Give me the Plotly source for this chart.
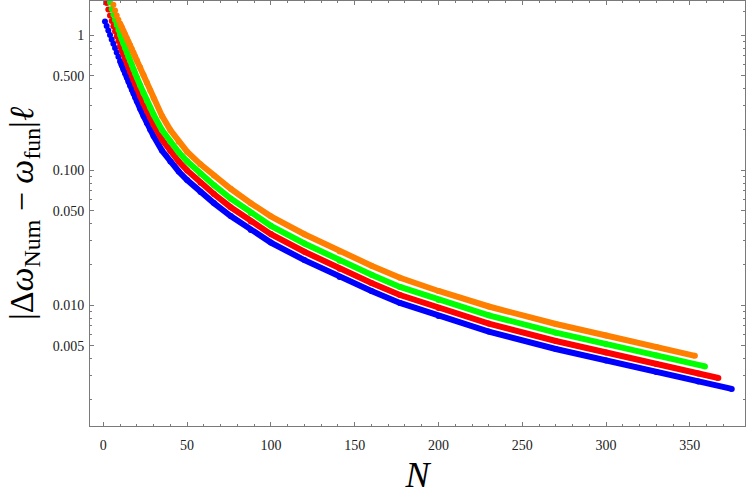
import plotly.graph_objects as go

# ---- data ----
N_blue = [1, 2, 3, 4, 5, 6, 7, 8, 9, 10, 11, 12, 13, 14, 15, 16, 17, 18, 19, 20,
          22, 24, 26, 28, 30, 35, 40, 45, 50, 58, 66, 76, 88, 100, 120, 141, 160,
          177, 200, 230, 270, 300, 330, 355, 375]
V_blue = [1.259, 1.166, 1.080, 1.000, 0.928, 0.861, 0.800, 0.743, 0.691, 0.642,
          0.597, 0.556, 0.519, 0.484, 0.451, 0.421, 0.393, 0.368, 0.344, 0.323,
          0.284, 0.251, 0.223, 0.199, 0.1786, 0.1394, 0.1156, 0.0975, 0.0843,
          0.0687, 0.0569, 0.0456, 0.0359, 0.0290, 0.0215, 0.0161, 0.0127,
          0.01035, 0.00829, 0.00636, 0.00472, 0.00388, 0.00319, 0.00271, 0.00239]

N_red = [2, 3, 4, 5, 6, 7, 8, 9, 10, 11, 12, 13, 14, 15, 16, 17, 18, 19, 20,
         22, 24, 26, 28, 30, 35, 40, 45, 50, 58, 66, 76, 88, 100, 120, 141, 160,
         177, 200, 230, 270, 300, 330, 355, 367]
V_red = [1.726, 1.545, 1.394, 1.272, 1.160, 1.065, 0.980, 0.903, 0.833, 0.772,
         0.715, 0.663, 0.616, 0.573, 0.533, 0.496, 0.462, 0.431, 0.403,
         0.353, 0.310, 0.274, 0.2435, 0.2173, 0.1682, 0.1382, 0.1156, 0.0993,
         0.0804, 0.0664, 0.0530, 0.0416, 0.0335, 0.0248, 0.01853, 0.01458,
         0.01186, 0.00950, 0.00729, 0.00541, 0.00445, 0.00366, 0.00311, 0.00288]

N_green = [4, 5, 6, 7, 8, 9, 10, 11, 12, 13, 14, 15, 16, 17, 18, 19, 20,
           22, 24, 26, 28, 30, 35, 40, 45, 50, 58, 66, 76, 88, 100, 120, 141, 160,
           177, 200, 230, 270, 300, 330, 359]
V_green = [1.741, 1.561, 1.411, 1.289, 1.184, 1.091, 1.007, 0.931, 0.862, 0.800,
           0.742, 0.688, 0.641, 0.596, 0.556, 0.519, 0.4845,
           0.4225, 0.3706, 0.3262, 0.2888, 0.2573, 0.1978, 0.1621, 0.1352, 0.1160,
           0.0937, 0.0772, 0.0614, 0.0480, 0.0386, 0.02855, 0.02129, 0.01674,
           0.01362, 0.01091, 0.00839, 0.00624, 0.00513, 0.00423, 0.00351]

N_orange = [6, 7, 8, 9, 10, 11, 12, 13, 14, 15, 16, 17, 18, 19, 20,
            22, 24, 26, 28, 30, 35, 40, 45, 50, 58, 66, 76, 88, 100, 120, 141, 160,
            177, 200, 230, 270, 300, 330, 353]
V_orange = [1.674, 1.516, 1.397, 1.298, 1.217, 1.142, 1.072, 1.009, 0.948, 0.892,
            0.838, 0.786, 0.738, 0.693, 0.650,
            0.574, 0.505, 0.4425, 0.3887, 0.3413, 0.2517, 0.1978, 0.1621, 0.1368,
            0.1102, 0.0909, 0.0726, 0.0568, 0.0454, 0.03345, 0.0249, 0.01955,
            0.0159, 0.0127, 0.00975, 0.00723, 0.00594, 0.00489, 0.00420]

x_ticks = [0, 50, 100, 150, 200, 250, 300, 350]
x_minor = [v for v in range(10, 380, 10) if v % 50 != 0]
y_ticks = [0.005, 0.01, 0.05, 0.1, 0.5, 1]
y_ticklabels = ["0.005", "0.010", "0.050", "0.100", "0.500", "1"]
y_minor = [0.002, 0.003, 0.004, 0.006, 0.007, 0.008, 0.009,
           0.02, 0.03, 0.04, 0.06, 0.07, 0.08, 0.09,
           0.2, 0.3, 0.4, 0.6, 0.7, 0.8, 0.9, 1.5]

series = [
    (N_blue, V_blue, "#0000ff"),
    (N_red, V_red, "#ff0000"),
    (N_green, V_green, "#00ff00"),
    (N_orange, V_orange, "#ff8000"),
]

fig = go.Figure()
for N, V, col in series:
    idx = [i for i, n in enumerate(N) if n >= 10]
    fig.add_trace(go.Scatter(x=[N[i] for i in idx], y=[V[i] for i in idx],
                             mode="lines", line=dict(color=col, width=6),
                             hoverinfo="skip", showlegend=False))
    fig.add_trace(go.Scatter(x=N, y=V, mode="markers",
                             marker=dict(color=col, size=6, line=dict(width=0)),
                             showlegend=False))

frame = "#7a7a7a"
serif = "Liberation Serif, DejaVu Serif, serif"
tickfont = dict(family=serif, size=14, color="#222")

fig.update_layout(
    width=747, height=504,
    margin=dict(l=90, r=2, t=1, b=78, pad=0),
    paper_bgcolor="white", plot_bgcolor="white",
    xaxis=dict(
        range=[-7.94, 382.9], showgrid=False, zeroline=False,
        showline=True, linecolor=frame, linewidth=1, mirror="ticks",
        ticks="inside", ticklen=4, tickwidth=1, tickcolor=frame,
        tickvals=x_ticks, ticktext=[str(v) for v in x_ticks],
        tickfont=tickfont, ticklabelstandoff=6,
        minor=dict(tickvals=x_minor, ticks="inside", ticklen=2,
                   tickwidth=1, tickcolor=frame, showgrid=False),
        title=dict(text="<i>N</i>", standoff=10,
                   font=dict(family=serif, size=36, color="#000")),
        automargin=False,
    ),
    yaxis=dict(
        type="log", range=[-2.8963, 0.2519], showgrid=False, zeroline=False,
        showline=True, linecolor=frame, linewidth=1, mirror="ticks",
        ticks="inside", ticklen=4, tickwidth=1, tickcolor=frame,
        tickvals=y_ticks, ticktext=y_ticklabels,
        tickfont=tickfont, ticklabelstandoff=2,
        minor=dict(tickvals=y_minor, ticks="inside", ticklen=2,
                   tickwidth=1, tickcolor=frame, showgrid=False),
        title=dict(text="|Δ<i>ω</i><sub>Num</sub> − <i>ω</i><sub>fun</sub>|<i>ℓ</i>",
                   standoff=8,
                   font=dict(family=serif, size=34, color="#000")),
        automargin=False,
    ),
)

fig.write_html("out.html",
               config={"displayModeBar": False},
               post_script="document.body.style.margin='0';document.body.style.overflow='hidden';")
